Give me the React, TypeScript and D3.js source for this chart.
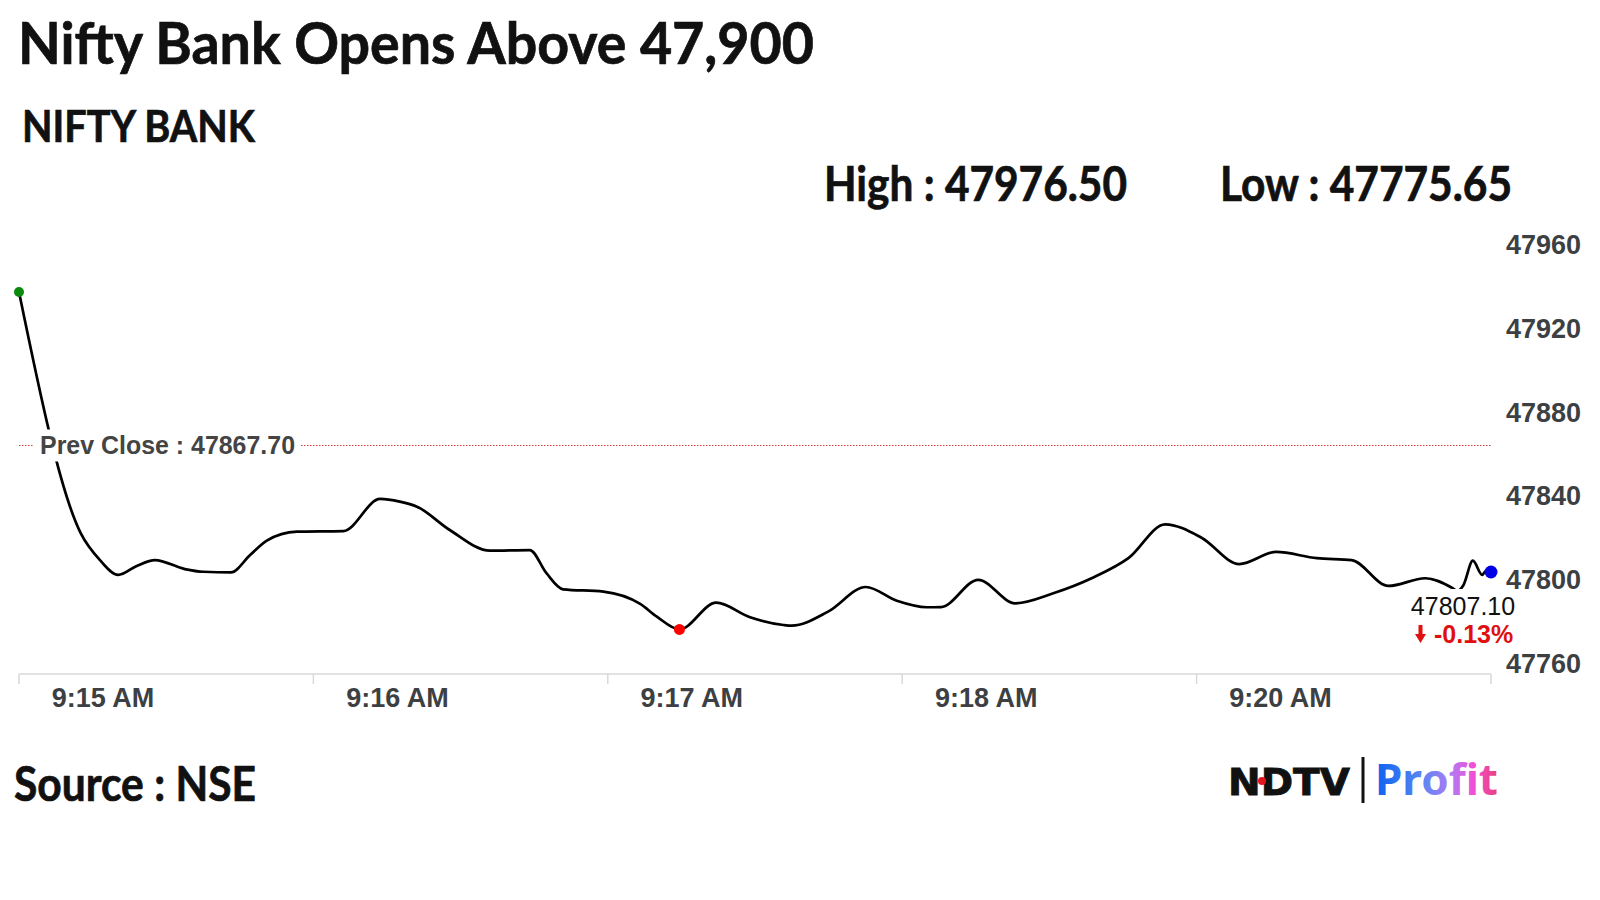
import React from "react";
import * as d3 from "d3";

// seconds after 9:15:00 and traded value
const secs = [0, 12.6, 16.5, 20.2, 24.0, 27.7, 33.8, 37.6, 43.2, 47.1, 50.5, 56.6, 66.1, 73.6, 77.6, 81.1, 87.8, 96.0, 104.1, 107.5, 110.9, 119.1, 126.6, 130.0, 134.6, 142.1, 149.0, 155.8, 157.5, 164.9, 172.6, 178.9, 185.0, 187.9, 195.5, 203.0, 210.8, 218.6, 226.1, 233.6, 241.0, 248.7, 256.2, 264.5, 271.6, 279.1, 286.6, 292.0, 293.2, 294.4, 296.3, 298.2, 299.0, 300];
const prices = [47941.2, 47825.6, 47812.8, 47805.7, 47810.0, 47812.8, 47808.5, 47807.2, 47806.9, 47815.2, 47822.1, 47826.4, 47826.7, 47842.1, 47840.8, 47838.4, 47827.2, 47817.3, 47817.6, 47806.5, 47798.8, 47797.7, 47791.8, 47785.7, 47779.6, 47792.4, 47785.4, 47781.7, 47781.4, 47788.1, 47799.9, 47793.3, 47790.2, 47790.3, 47803.3, 47792.1, 47796.9, 47804.1, 47813.7, 47829.9, 47823.5, 47810.9, 47816.7, 47813.7, 47812.8, 47800.4, 47804.1, 47799.6, 47798.0, 47800.9, 47812.5, 47805.7, 47807.7, 47807.1];

const yTicks = [47760, 47800, 47840, 47880, 47920, 47960];
const xTickSecs = [0, 60, 120, 180, 240, 300];
const xTickLabels = ["9:15 AM", "9:16 AM", "9:17 AM", "9:18 AM", "9:20 AM"];

const prevClose = 47867.7;
const high = "47976.50";
const low = "47775.65";
const lastValue = "47807.10";
const changePct = "-0.13%";
const lowIndex = 24;

export default function App() {
  const x = d3.scaleLinear().domain([0, 300]).range([19, 1491]);
  const y = d3.scaleLinear().domain([47760, 47960]).range([670.3, 252.8]);
  const data = secs.map((s, i) => [s, prices[i]] as [number, number]);
  const line = d3
    .line<[number, number]>()
    .x((d) => x(d[0]))
    .y((d) => y(d[1]))
    .curve(d3.curveMonotoneX);

  const calib = "Lato, 'Open Sans', sans-serif";
  const arial = "'Liberation Sans', Arial, sans-serif";
  const last = data[data.length - 1];
  const first = data[0];
  const lowPt = data[lowIndex];
  // label y positions spread slightly wider than the line scale, as in the reference
  const yLabel = (t: number) => 461.5 - (t - 47860) * 2.097 + 2;

  const heavy = { stroke: "#111", strokeWidth: 0.7 };

  return (
    <svg
      width={1600}
      height={900}
      style={{ position: "absolute", left: 0, top: 0, background: "#fff" }}
    >
      <defs>
        <linearGradient id="profitGrad" x1="0" x2="1" y1="0" y2="0">
          <stop offset="0" stopColor="#0b63f0" />
          <stop offset="0.4" stopColor="#5f86f5" />
          <stop offset="0.62" stopColor="#b07af2" />
          <stop offset="0.8" stopColor="#f24fd8" />
          <stop offset="1" stopColor="#ea3f78" />
        </linearGradient>
      </defs>
      <rect width={1600} height={900} fill="#fff" />

      <text x={18} y={64} fontFamily={calib} fontWeight={700} fontSize={58} fill="#111" {...heavy} textLength={796} lengthAdjust="spacingAndGlyphs">
        Nifty Bank Opens Above 47,900
      </text>
      <text x={22} y={142} fontFamily={calib} fontWeight={700} fontSize={44} fill="#111" {...heavy} textLength={233} lengthAdjust="spacingAndGlyphs">
        NIFTY BANK
      </text>
      <text x={824} y={201} fontFamily={calib} fontWeight={700} fontSize={47} fill="#111" {...heavy} textLength={303} lengthAdjust="spacingAndGlyphs">
        {`High : ${high}`}
      </text>
      <text x={1220} y={201} fontFamily={calib} fontWeight={700} fontSize={47} fill="#111" {...heavy} textLength={292} lengthAdjust="spacingAndGlyphs">
        {`Low : ${low}`}
      </text>

      {/* y axis labels */}
      {yTicks.map((t) => (
        <text key={t} x={1506} y={yLabel(t)} fontFamily={arial} fontWeight={700} fontSize={27} fill="#3d4043">
          {t}
        </text>
      ))}

      {/* x axis */}
      <line x1={x(0)} x2={x(300)} y1={674} y2={674} stroke="#d9d9d9" strokeWidth={1.5} />
      {xTickSecs.map((s) => (
        <line key={s} x1={x(s)} x2={x(s)} y1={674} y2={684} stroke="#d9d9d9" strokeWidth={1.5} />
      ))}
      {xTickLabels.map((l, i) => (
        <text key={l} x={x(xTickSecs[i]) + 84} y={707} textAnchor="middle" fontFamily={arial} fontWeight={700} fontSize={27} fill="#3d4043">
          {l}
        </text>
      ))}

      {/* prev close */}
      <line x1={x(0)} x2={x(300)} y1={y(prevClose)} y2={y(prevClose)} stroke="#d9383a" strokeWidth={1} strokeDasharray="1.5,1.5" />

      <path d={line(data) || ""} fill="none" stroke="#000" strokeWidth={2.7} strokeLinejoin="round" />

      <rect x={34} y={y(prevClose) - 16} width={266} height={32} fill="#fff" />
      <text x={40} y={y(prevClose) + 9} fontFamily={arial} fontWeight={700} fontSize={25.5} fill="#444" textLength={255} lengthAdjust="spacingAndGlyphs">
        {`Prev Close : ${prevClose.toFixed(2)}`}
      </text>

      <circle cx={x(first[0])} cy={y(first[1])} r={5} fill="#0a8a0a" />
      <circle cx={x(lowPt[0])} cy={y(lowPt[1])} r={5.5} fill="#f00" />
      <circle cx={x(last[0])} cy={y(last[1])} r={6.5} fill="#0000e6" />

      {/* last value label */}
      <rect x={1408} y={589} width={112} height={58} fill="#fff" />
      <text x={1463} y={615} textAnchor="middle" fontFamily={arial} fontSize={25} fill="#111">
        {lastValue}
      </text>
      <path d="M1418.5,625 L1422.5,625 L1422.5,634 L1426,634 L1420.5,643 L1415,634 L1418.5,634 Z" fill="#e01010" />
      <text x={1434} y={643} fontFamily={arial} fontWeight={700} fontSize={25} fill="#e01010">
        {changePct}
      </text>

      <text x={14} y={801} fontFamily={calib} fontWeight={700} fontSize={47} fill="#111" {...heavy} textLength={242} lengthAdjust="spacingAndGlyphs">
        Source : NSE
      </text>

      {/* logo */}
      <text x={1228} y={795} fontFamily="'DejaVu Sans', sans-serif" fontWeight={700} fontSize={37} fill="#111" stroke="#111" strokeWidth={0.8} textLength={122} lengthAdjust="spacingAndGlyphs">
        NDTV
      </text>
      <circle cx={1262} cy={781} r={4} fill="#e3161b" />
      <rect x={1361.5} y={757} width={3} height={46} fill="#111" />
      <text x={1375} y={795} fontFamily="'Noto Sans', sans-serif" fontWeight={700} fontSize={43} fill="url(#profitGrad)" textLength={123} lengthAdjust="spacingAndGlyphs">
        Profit
      </text>
    </svg>
  );
}
